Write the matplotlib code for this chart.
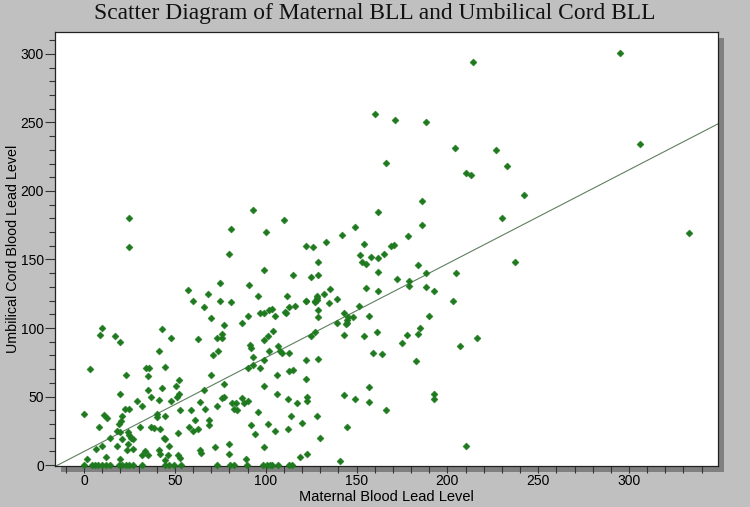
import matplotlib
matplotlib.use("Agg")
import matplotlib.pyplot as plt
import numpy as np

# Maternal blood lead level (x) and umbilical cord blood lead level (y)
maternal = [
    10, 8.5, 17, 20, 43, 48, 3, 41, 34, 36, 44.5, 23, 35, 20, 35, 37, 43, 52, 50.5, 51, 52, 48, 41, 29, 32,
    22.6, 25, 0, 11, 12.5, 21, 20.4, 8, 19.5, 40, 40, 44.6, 53, 31, 18, 20, 24, 25, 26, 27, 37, 38.6, 42,
    14.5, 21, 18, 24, 10, 6.6, 27, 23.6, 44, 44.6, 51.5, 46.5, 41, 42, 46, 32, 35, 33.6, 51.6, 52.7, 12,
    1.7, 20, 44.6,
    60, 62.5, 59, 61, 58, 60, 63,
    66, 75, 81, 70, 77, 87, 90, 97, 99, 102, 103.4, 105, 110.4, 111, 113, 116, 122, 127, 128.4, 135,
    129, 128.6, 151.5, 143, 145.5, 144.7, 144, 145, 148, 157, 139, 143, 154, 161, 159, 127, 125, 104,
    101, 99, 91.5, 92, 76, 76, 73, 71, 74, 107, 102, 108, 109, 113, 99, 93, 97, 90, 93, 70, 66, 77, 106,
    113, 115, 122, 128.6, 122, 99, 106, 77, 76, 73, 66.5, 64, 81.5, 83.6, 82.6, 84, 87, 88, 90, 96, 112,
    117, 123, 123, 114, 120, 128, 101, 92, 94, 105, 112, 69, 69, 64, 64.5, 72, 80, 99, 80, 89, 119, 123,
    141, 130, 145, 143, 149, 157, 157,
    160, 171, 93, 110, 81, 100, 149, 142, 133, 122, 126, 154, 80, 152, 158, 129, 153, 155, 99, 115, 125,
    129, 91, 155, 135.5, 95.5, 111.5, 128, 128, 127, 132, 139, 122,
    166, 210, 213, 233, 242, 162, 186, 186, 230, 178.5, 169, 170.5, 165, 162, 184, 162, 188, 205, 237.5,
    172.5, 179, 179, 188, 192.5, 162, 203,
    214, 188, 204, 227,
    295, 306, 333,
    190, 178, 185, 184, 175, 216.5, 207, 164, 183, 192.5, 192.5, 166, 210,
    25, 24.5, 57, 68, 75,
    0, 4.5, 6, 7.5, 10, 12, 14.5, 19, 21, 23, 25, 27, 32, 44.6, 47, 49.5, 53.5, 73, 80.5, 82.5, 89.5,
    98.5, 100.5, 102.5, 103.5, 106.5, 113, 114.5,
]
cord = [
    100, 95, 94, 89.5, 99, 93, 70, 83, 71, 70.5, 71.5, 66, 65, 52, 55, 50, 56, 62, 58, 50, 51.6, 47, 47.6, 47, 43,
    40.6, 40.6, 37, 36.7, 34, 36, 32, 28, 30, 37, 35, 36, 40, 28, 25, 24, 24, 22, 20, 18.7, 28, 27, 26,
    20, 19, 14, 15, 14, 11.7, 12, 11, 20, 18.7, 23.6, 14, 11, 8, 7, 7, 7, 10, 7, 5.4, 6,
    4.4, 4.4, 3.6,
    120, 92, 40, 33, 28, 25, 26,
    115, 120, 119, 107, 102, 104, 109, 111, 111, 113.5, 114, 109, 112, 111, 115, 116, 119.6, 119, 120.4, 118,
    113, 108, 116, 111, 108, 106, 103, 104, 108, 109, 104, 95, 94, 97, 81.5, 97, 94, 98,
    94, 91, 87.5, 85.6, 95.5, 93, 93, 80, 83, 87, 83, 83, 81.5, 82, 77, 78.5, 71, 71, 73, 66, 55, 59, 66,
    68.6, 69, 77, 77.5, 62.5, 58, 52, 50, 49, 43, 41, 46, 45, 45, 41, 40, 49, 45.5, 47, 39, 48,
    45.5, 50, 47, 36, 31, 35.5, 30, 29, 23, 25, 26, 33, 29, 11, 9, 13, 15, 13, 8, 4.4, 6, 8,
    3, 20, 28, 51, 48, 57, 46,
    256, 251.6, 186, 179, 172, 170, 174, 168, 163, 160, 159, 161, 154, 153, 152, 148, 148, 147, 142, 139, 137,
    139, 131.5, 129, 128.6, 123, 123, 123.5, 121.6, 120, 124.5, 121, 120,
    220.5, 213, 212, 218, 197, 185, 192.6, 175, 180, 167.5, 160, 160.5, 154, 151, 146, 141, 140, 140, 148,
    136, 134, 131, 130, 127, 127, 120,
    294, 250, 231, 230,
    301, 234, 169,
    109, 95, 100, 95.6, 89, 93, 87, 81, 76, 51.5, 48, 40, 14,
    180, 159, 128, 124.5, 132.5,
    0, 0, 0, 0, 0, 0, 0, 0, 0, 0, 0, 0, 0, 0, 0, 0, 0, 0, 0, 0, 0,
    0, 0, 0, 0, 0, 0, 0,
]

# fitted regression line
fit_intercept = 9.9
fit_slope = 0.685

x_major_ticks = [0, 50, 100, 150, 200, 250, 300]
y_major_ticks = [0, 50, 100, 150, 200, 250, 300]

title = "Scatter Diagram of Maternal BLL and Umbilical Cord BLL"
xlabel = "Maternal Blood Lead Level"
ylabel = "Umbilical Cord Blood Lead Level"

W, H = 750, 507
fig = plt.figure(figsize=(W / 100, H / 100), dpi=100)
fig.patch.set_facecolor("#c0c0c0")

left, right, top, bottom = 55, 718, 32, 466
ax_rect = [left / W, 1 - bottom / H, (right - left) / W, (bottom - top) / H]

# drop shadow behind the plot area (a blank axes added first)
sh = 6
shadow = fig.add_axes([(left + sh) / W, 1 - (bottom + sh) / H, (right - left) / W, (bottom - top) / H])
shadow.set_facecolor("#808080")
shadow.set_xticks([])
shadow.set_yticks([])
for s in shadow.spines.values():
    s.set_visible(False)

ax = fig.add_axes(ax_rect)
ax.set_facecolor("white")
ax.set_xlim(-16, 349)
ax.set_ylim(-0.7, 316)

ax.scatter(maternal, cord, marker="D", s=13, color="#1f7a1f", edgecolors="#1f7a1f",
           linewidths=0.3, zorder=3, clip_on=False)

xs = np.array(ax.get_xlim())
ax.plot(xs, fit_intercept + fit_slope * xs, color="#5f7f5f", lw=0.8, zorder=2)

ax.set_xticks(x_major_ticks)
ax.set_xticks(np.arange(-10, 349, 10), minor=True)
ax.set_yticks(y_major_ticks)
ax.set_yticks(np.arange(0, 316, 10), minor=True)

tick_font = {"family": ["Liberation Sans", "DejaVu Sans"], "size": 10}
ax.set_xticklabels([str(t) for t in x_major_ticks], fontdict=tick_font)
ax.set_yticklabels([str(t) for t in y_major_ticks], fontdict=tick_font)
ax.tick_params(axis="x", which="major", direction="out", length=5, width=0.8, color="#333333", pad=1)
ax.tick_params(axis="x", which="minor", direction="out", length=5, width=0.8, color="#333333")
ax.tick_params(axis="y", which="major", direction="out", length=7, width=0.8, color="#333333", pad=1)
ax.tick_params(axis="y", which="minor", direction="out", length=4, width=0.8, color="#333333")

for s in ax.spines.values():
    s.set_color("#222222")
    s.set_linewidth(0.9)

fig.text(0.5, 1 - 13 / H, title, ha="center", va="center",
         family=["Liberation Serif", "DejaVu Serif"], fontsize=16.9, color="#111111")
fig.text((left + (right - left) / 2) / W, 1 - 497 / H, xlabel, ha="center", va="center",
         family=["Liberation Sans", "DejaVu Sans"], fontsize=10.5)
fig.text(13 / W, 1 - ((top + bottom) / 2) / H, ylabel, ha="center", va="center", rotation=90,
         family=["Liberation Sans", "DejaVu Sans"], fontsize=10.3)

fig.savefig("out.png", dpi=100, facecolor=fig.get_facecolor())
